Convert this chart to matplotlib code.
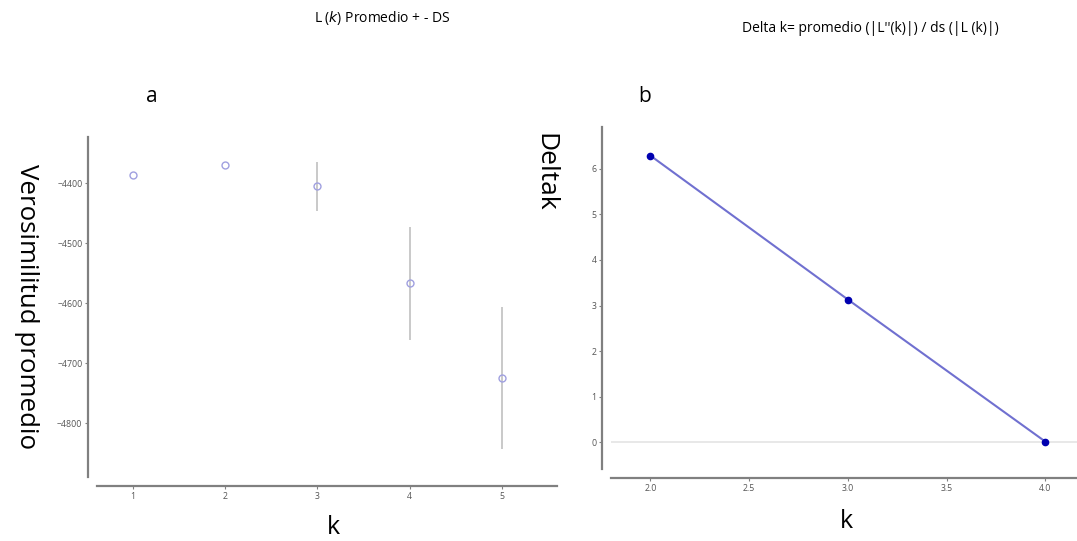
import matplotlib
matplotlib.use("Agg")
import matplotlib.pyplot as plt

# Data
k_vals = [1, 2, 3, 4, 5]
lk_mean = [-4387, -4370, -4405, -4567, -4725]
lk_sd = [0, 0, 41, 94, 118]

dk_x = [2.0, 3.0, 4.0]
dk_y = [6.29, 3.13, 0.01]

left_yticks = [-4400, -4500, -4600, -4700, -4800]
left_xticks = [1, 2, 3, 4, 5]
right_xticks = [2.0, 2.5, 3.0, 3.5, 4.0]
right_yticks = [0, 1, 2, 3, 4, 5, 6]

plt.rcParams['font.family'] = ['Open Sans', 'DejaVu Sans']

fig = plt.figure(figsize=(10.77, 5.41), dpi=100)
fig.patch.set_facecolor('white')

spine_col = '#808080'
tick_col = '#555555'

def style(ax):
    for s in ['top', 'right']:
        ax.spines[s].set_visible(False)
    for s in ['left', 'bottom']:
        ax.spines[s].set_color(spine_col)
        ax.spines[s].set_linewidth(1.6)
        ax.spines[s].set_position(('outward', 6.5))
    ax.tick_params(axis='both', length=2, width=0.8, colors=spine_col,
                   labelsize=6.3, labelcolor=tick_col, pad=2)

# Left panel
ax1 = fig.add_axes([97/1077, (541-477)/541, (557-97)/1077, (477-137)/541])
style(ax1)
ax1.errorbar(k_vals, lk_mean, yerr=lk_sd, fmt='o', ms=5, mfc='none',
             mec='#a0a0e0', mew=1.0, ecolor='#c0c0c0', elinewidth=1.2, capsize=0)
ax1.set_xlim(0.61, 5.6)
ax1.set_ylim(-4890, -4323)
ax1.set_xticks(left_xticks)
ax1.set_yticks(left_yticks)
ax1.set_xlabel('k', fontsize=18)
ax1.xaxis.set_label_coords((333-97)/(557-97), -(527-477)/340)
ax1.xaxis.label.set_va('center')
ax1.set_ylabel('Verosimilitud promedio', fontsize=18.6, rotation=270,
               ha='center', va='center')
ax1.yaxis.set_label_coords((26-97)/460, (477-307)/340)

# Right panel
ax2 = fig.add_axes([611/1077, (541-469)/541, 466/1077, 342/541])
style(ax2)
ax2.axhline(0, color='#e4e4e4', lw=1.2, zorder=0)
ax2.plot(dk_x, dk_y, '-', color='#7070d0', lw=1.5, zorder=2)
ax2.plot(dk_x, dk_y, 'o', color='#0000b0', ms=4.5, zorder=3)
ax2.set_xlim(1.80, 4.16)
ax2.set_ylim(-0.59, 6.92)
ax2.set_xticks(right_xticks)
ax2.set_xticklabels([f'{v:.1f}' for v in right_xticks])
ax2.set_yticks(right_yticks)
ax2.set_xlabel('k', fontsize=18)
ax2.xaxis.set_label_coords((846-611)/466, -(522-469)/342)
ax2.xaxis.label.set_va('center')

# Text labels
fig.text(545/1077, 1 - 172/541, 'Deltak', fontsize=19, rotation=270,
         ha='center', va='center')
fig.text(152/1077, 1 - 97/541, 'a', fontsize=15, ha='center', va='center')
fig.text(645/1077, 1 - 97/541, 'b', fontsize=15, ha='center', va='center')
fig.text(382/1077, 1 - 18/541, r'L ($\it{k}$) Promedio + - DS', fontsize=10,
         ha='center', va='center')
fig.text(870/1077, 1 - 28/541, "Delta k= promedio (|L''(k)|) / ds (|L (k)|)",
         fontsize=10, ha='center', va='center')

fig.savefig('out.png', dpi=100)
